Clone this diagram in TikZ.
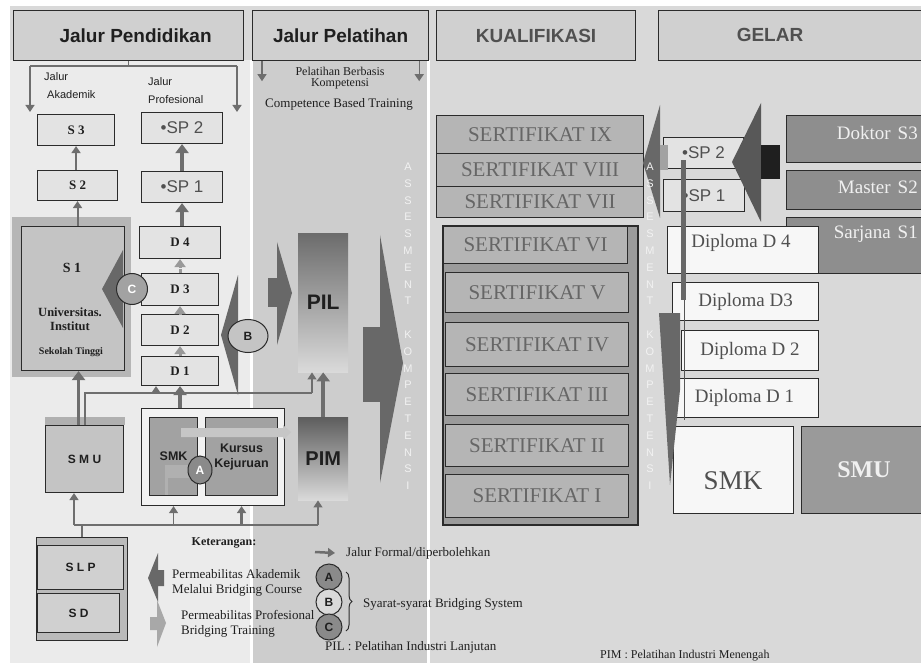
\documentclass[tikz,border=0pt]{standalone}
\usepackage{fontspec}
\setmainfont{Liberation Serif}
\setsansfont{Liberation Sans}
\usepackage{tikz}
\usetikzlibrary{arrows.meta,positioning,shapes.geometric,decorations.pathreplacing}
\definecolor{PanelL}{HTML}{EBEBEB}
\definecolor{PanelM}{HTML}{CDCDCD}
\definecolor{PanelR}{HTML}{D9D9D9}
\definecolor{Head}{HTML}{D0D0D0}
\definecolor{Edge}{HTML}{2B2B2B}
\definecolor{Dark}{HTML}{1F1F1F}
\definecolor{Ink}{HTML}{505050}
\definecolor{BoxL}{HTML}{E3E3E3}
\definecolor{BoxM}{HTML}{C4C4C4}
\definecolor{BoxD}{HTML}{A2A2A2}
\definecolor{S1Back}{HTML}{B6B6B6}
\definecolor{Shaft}{HTML}{6E6E6E}
\definecolor{Wedge}{HTML}{686868}
\definecolor{Soft}{HTML}{C6C6C6}
\definecolor{Cert}{HTML}{B5B5B5}
\definecolor{CertBack}{HTML}{9B9B9B}
\definecolor{CertText}{HTML}{666666}
\definecolor{Gelar}{HTML}{8E8E8E}
\definecolor{Paper}{HTML}{F7F7F7}
\definecolor{PilTop}{HTML}{6C6C6C}
\definecolor{PilBot}{HTML}{DADADA}

\begin{document}
\begin{tikzpicture}[x=1pt,y=-1pt,
  hdr/.style={draw=Edge,fill=Head,line width=1.2pt,anchor=north west,inner sep=0pt,font=\fontsize{19}{21}\selectfont\sffamily\bfseries,text=Dark},
  lbox/.style={draw=Edge,fill=BoxL,line width=1.1pt,anchor=north west,inner sep=0pt,font=\fontsize{13}{15}\selectfont\bfseries,text=Dark},
  spbox/.style={lbox,font=\fontsize{17}{19}\selectfont\sffamily\mdseries,text=Ink},
  mbox/.style={lbox,fill=BoxM,font=\fontsize{12}{14}\selectfont\sffamily\bfseries},
  kbox/.style={lbox,fill=BoxD,align=center,font=\fontsize{12.5}{15}\selectfont\sffamily\bfseries},
  cert/.style={draw=Edge,fill=Cert,line width=1.1pt,anchor=north west,inner sep=0pt,text=CertText,font=\fontsize{21}{23}\selectfont},
  dip/.style={draw=Edge,fill=Paper,line width=1.1pt,anchor=north west,inner sep=0pt,text=Ink,font=\fontsize{19}{21}\selectfont},
  gel/.style={draw=Edge,fill=Gelar,line width=1.1pt,anchor=north west,inner sep=0pt},
  geltext/.style={anchor=east,inner sep=0pt,text=white!94!black,font=\fontsize{19}{21}\selectfont},
  bubble/.style={ellipse,draw=Edge,line width=1pt,inner sep=0pt,font=\fontsize{12}{14}\selectfont\sffamily\bfseries},
  fatarr/.style={draw=Shaft,line width=3.5pt,-{Triangle[length=9pt,width=13pt]}},
  grayarr/.style={draw=Shaft,line width=2pt,-{Triangle[length=7pt,width=9pt]}},
  dasharr/.style={draw=Shaft!70,line width=3pt,dash pattern=on 4pt off 2pt,-{Triangle[length=8pt,width=11pt]}},
  thinline/.style={draw=Shaft,line width=1.3pt},
  thinarr/.style={thinline,-{Triangle[length=7pt,width=9pt]}},
  legtext/.style={inner sep=0pt,text=Dark,align=left,font=\fontsize{13}{15}\selectfont},
  vletter/.style={inner sep=0pt,text=white!95!black,font=\fontsize{11}{11}\selectfont\sffamily}
]
\useasboundingbox (0,0) rectangle (921,663);
% panels
\fill[white] (0,0) rectangle (921,663);
\fill[PanelR] (10,6) rectangle (921,663);
\fill[PanelL] (10,60) rectangle (250,663);
\fill[PanelM] (253,60) rectangle (427,663);
\fill[white] (250,60) rectangle (253,663);
\fill[white] (427,60) rectangle (430,663);

% headers
\node[hdr,minimum width=230,minimum height=50] (hdrpend) at (13,10) {\hspace*{14pt}Jalur Pendidikan};
\node[hdr,minimum width=176,minimum height=50] (hdrpel) at (252,10) {Jalur Pelatihan};
\node[hdr,minimum width=199,minimum height=50,text=Ink] (hdrkual) at (436,10) {KUALIFIKASI};
\node[hdr,minimum width=280,minimum height=50] (hdrgel) at (658,10) {};
\node[font=\fontsize{19}{21}\selectfont\sffamily\bfseries,text=Ink] (gelt) at (770,35) {GELAR};

\coordinate (busL) at (30,66);
\coordinate (busR) at (237,66);
\coordinate (akEnd) at (30,112);
\coordinate (prEnd) at (237,112);
\draw[thinline] (hdrpend.south) -- (hdrpend.south |- busL);
\draw[thinline] (busL) -- (busR);
\draw[thinarr] (busL) -- (akEnd);
\draw[thinarr] (busR) -- (prEnd);
\draw[thinarr] ([xshift=10pt]hdrpel.south west) -- ++(0,20);
\draw[thinarr] ([xshift=-10pt]hdrpel.south east) -- ++(0,20);

\node[legtext,font=\fontsize{11}{18}\selectfont\sffamily,anchor=west] (jak) at (44,86) {Jalur\\\hspace*{3pt}Akademik};
\node[legtext,font=\fontsize{11}{18}\selectfont\sffamily,anchor=west] (jpr) at (148,91) {Jalur\\Profesional};
\node[legtext,align=center,font=\fontsize{12}{11.5}\selectfont] (pbk) at (340,78) {Pelatihan Berbasis\\Kompetensi};
\node[legtext] (cbt) at (339,104) {Competence Based Training};

% academic column
\node[lbox,minimum width=77,minimum height=31] (s3) at (37,114) {S 3};
\node[lbox,minimum width=80,minimum height=30] (s2) at (37,170) {S 2};
\fill[S1Back] (12,217) rectangle (131,377);
\node[lbox,fill=BoxM,minimum width=103,minimum height=144] (s1) at (21,226) {};
\node[font=\fontsize{14}{16}\selectfont\bfseries,text=Dark] (s1t) at (72,268) {S 1};
\node[align=center,font=\fontsize{12.5}{14}\selectfont\bfseries,text=Dark] (s1u) at (70,319) {Universitas.\\Institut};
\node[font=\fontsize{10}{12}\selectfont\bfseries,text=Dark] (s1s) at (71,352) {Sekolah Tinggi};

% professional column
\node[spbox,minimum width=81,minimum height=31] (sp2) at (141,112) {\textbullet SP 2};
\node[spbox,minimum width=81,minimum height=31] (sp1) at (141,171) {\textbullet SP 1};
\node[lbox,minimum width=81,minimum height=32] (d4) at (139,226) {D 4};
\node[lbox,minimum width=77,minimum height=32] (d3) at (141,273) {D 3};
\node[lbox,minimum width=77,minimum height=31] (d2) at (141,314) {D 2};
\node[lbox,minimum width=77,minimum height=29] (d1) at (141,356) {D 1};

\draw[grayarr] (s3.south |- s2.north) -- (s3.south);
\draw[grayarr] (s2.south |- s1.north) -- (s2.south);
\draw[fatarr] (sp2.south |- sp1.north) -- (sp2.south);
\draw[fatarr] (sp1.south |- d4.north) -- (sp1.south);
\draw[dasharr] (d4.south |- d3.north) -- (d4.south);
\draw[dasharr] (d3.south |- d2.north) -- (d3.south);
\draw[dasharr] (d2.south |- d1.north) -- (d2.south);

% SMU and SMK group
\fill[BoxM!90!black] (45,417) rectangle (125,425);
\node[mbox,minimum width=78,minimum height=67] (smu) at (45,425) {S M U};
\node[lbox,fill=white!95!black,minimum width=143,minimum height=97] (grp) at (141,408) {};
\node[kbox,minimum width=48,minimum height=78] (smk) at (149,417) {SMK};
\node[kbox,minimum width=72,minimum height=78] (kursus) at (205,417) {Kursus\\Kejuruan};
\fill[BoxD!85!white] (165,465) rectangle (192,478);
\fill[BoxD!85!white] (165,478) rectangle (168,495);
\fill[Soft] (181,428) -- (283,428) -- (283,425) -- (291,432) -- (283,440) -- (283,437) -- (181,437) -- cycle;

% wedges
\fill[Wedge] (102,289) -- (123,250) -- (123,328) -- cycle;
\fill[Wedge] (123,278) rectangle (130,300);
\fill[Wedge] (221,335) -- (238,275) -- (238,395) -- cycle;
\fill[Wedge] (268,278) rectangle (277,307);
\fill[Wedge] (277,242) -- (292,293) -- (277,345) -- cycle;
\fill[Wedge] (363,327) rectangle (380,402);
\fill[Wedge] (380,235) -- (403,363) -- (380,483) -- cycle;

\node[bubble,circle,fill=BoxD,text=white,minimum size=31] (bc) at (132,289) {C};
\node[bubble,fill=BoxM,text=Dark,minimum width=40,minimum height=33] (bb) at (248,336) {B};
\node[bubble,fill=BoxD!85!black,text=white,minimum width=24,minimum height=28] (ba) at (200,470) {A};

% training column
\node[anchor=north west,inner sep=0pt,minimum width=50,minimum height=139,top color=PilTop,bottom color=PilBot,font=\fontsize{21}{23}\selectfont\sffamily\bfseries,text=Dark] (pil) at (298,233) {PIL};
\node[anchor=north west,inner sep=0pt,minimum width=50,minimum height=83,top color=PilTop!110,bottom color=PilBot,font=\fontsize{20}{22}\selectfont\sffamily\bfseries,text=Dark] (pim) at (298,417) {PIM};
\draw[fatarr] (pim.north) -- (pil.south);

% connectors of the left panel
\draw[fatarr] (d1.south |- grp.north) -- (d1.south);
\draw[fatarr] ([xshift=-6pt]smu.north) -- ([xshift=-6pt]smu.north |- s1.south);
\coordinate (lnkA) at (85,393);
\coordinate (lnkB) at (312,393);
\coordinate (lnkC) at (156,393);
\draw[thinline] (smu.north -| lnkA) -- (lnkA) -- (lnkB);
\draw[thinarr] (lnkB) -- (lnkB |- pil.south);
\draw[thinarr] (lnkC) -- (lnkC |- d1.south);

% SLP / SD
\node[lbox,fill=BoxM!95!black,minimum width=91,minimum height=103] (slpgrp) at (36,537) {};
\node[mbox,fill=BoxM!80!white,minimum width=86,minimum height=44] (slp) at (37,545) {S L P};
\node[mbox,fill=BoxM!80!white,minimum width=82,minimum height=39] (sd) at (37,593) {S D};

\coordinate (busB) at (74,525);
\coordinate (busE) at (318,525);
\draw[thinline] (slpgrp.north) -- (slpgrp.north |- busB);
\draw[thinline] (busB) -- (busE);
\draw[thinarr] (busB) -- (busB |- smu.south);
\draw[thinarr] (smk.south |- busB) -- (smk.south |- grp.south);
\draw[thinarr,line width=2.2pt] (kursus.south |- busB) -- (kursus.south |- grp.south);
\draw[thinarr] (busE) -- (busE |- pim.south);

% qualifications
\node[cert,minimum width=207,minimum height=38] (c9) at (436,115) {SERTIFIKAT IX};
\node[cert,minimum width=207,minimum height=33] (c8) at (436,153) {SERTIFIKAT VIII};
\node[cert,minimum width=207,minimum height=31] (c7) at (436,186) {SERTIFIKAT VII};
\filldraw[fill=CertBack,draw=Edge,line width=1.1pt] (443,226) rectangle (638,525);
\node[cert,minimum width=184,minimum height=37] (c6) at (443,226) {SERTIFIKAT VI};
\node[cert,minimum width=183,minimum height=40] (c5) at (445,272) {SERTIFIKAT V};
\node[cert,minimum width=183,minimum height=44] (c4) at (445,322) {SERTIFIKAT IV};
\node[cert,minimum width=183,minimum height=42] (c3) at (445,373) {SERTIFIKAT III};
\node[cert,minimum width=183,minimum height=42] (c2) at (445,424) {SERTIFIKAT II};
\node[cert,minimum width=183,minimum height=43] (c1) at (445,474) {SERTIFIKAT I};

% degrees
\node[gel,minimum width=140,minimum height=47] (doktor) at (786,115) {};
\node[gel,minimum width=140,minimum height=39] (master) at (786,170) {};
\node[gel,minimum width=140,minimum height=56] (sarjana) at (786,217) {};
\node[geltext] (doktort) at (918,133) {Doktor\hspace{7pt}S3};
\node[geltext] (mastert) at (918,187) {Master\hspace{7pt}S2};
\node[geltext] (sarjanat) at (918,234) {Sarjana\hspace{7pt}S1};

\node[spbox,minimum width=80,minimum height=31] (rsp2) at (663,137) {\textbullet SP 2};
\node[spbox,minimum width=81,minimum height=32] (rsp1) at (663,179) {\textbullet SP 1};

\node[dip,minimum width=151,minimum height=47] (dd4) at (667,226) {};
\node[dip,anchor=center,draw=none,fill=none] (dd4t) at (741,243) {Diploma D 4};
\node[dip,minimum width=146,minimum height=38] (dd3) at (672,282) {Diploma D3};
\node[dip,minimum width=137,minimum height=40] (dd2) at (681,330) {Diploma D 2};
\node[dip,minimum width=148,minimum height=39] (dd1) at (670,378) {Diploma D 1};
\node[dip,minimum width=120,minimum height=87] (rsmk) at (673,426) {};
\node[text=Ink,font=\fontsize{27}{29}\selectfont] (rsmkt) at (733,481) {SMK};
\node[gel,fill=BoxD!95!black,minimum width=125,minimum height=87,text=white!94!black,font=\fontsize{24}{26}\selectfont\bfseries] (rsmu) at (801,426) {SMU};

% right wedges
\fill[Wedge] (643,163) -- (660,105) -- (660,218) -- cycle;
\fill[BoxD] (660,145) rectangle (668,170);
\fill[Wedge!85!black] (732,162) -- (761,103) -- (761,222) -- cycle;
\fill[black!88] (761,145) rectangle (780,179);
\fill[Wedge] (681,160) rectangle (686,300);
\draw[Edge!80,line width=1pt] (684,300) -- (684,420);
\fill[Wedge] (659,313) -- (680,313) -- (680,390) -- (670,485) -- cycle;

% vertical lettering
\foreach \ch [count=\i] in {A,S,S,E,S,M,E,N,T,{},K,O,M,P,E,T,E,N,S,I}{
  \node[vletter] (va\i) at (408,{150+16.8*\i}) {\ch};
  \node[vletter] (vb\i) at (650,{150+16.8*\i}) {\ch};
}

% legend
\node[legtext,font=\fontsize{12}{14}\selectfont\bfseries] (keter) at (224,543) {Keterangan:};
\fill[Wedge] (148,578) -- (158,553) -- (158,570) -- (164,570) -- (164,586) -- (158,586) -- (158,602) -- cycle;
\fill[Soft!85!black] (150,617) -- (157,617) -- (157,600) -- (166,623) -- (157,647) -- (157,630) -- (150,630) -- cycle;
\node[legtext,anchor=west] (lgak) at (172,583) {Permeabilitas Akademik\\Melalui Bridging Course};
\node[legtext,anchor=west] (lgpr) at (181,624) {Permeabilitas Profesional\\Bridging Training};
\coordinate (lgS) at (315,552);
\node[legtext,anchor=west] (lgformal) at (346,553) {Jalur Formal/diperbolehkan};
\draw[grayarr,line width=2.5pt] (lgS) -- ([xshift=-11pt]lgformal.west);
\node[bubble,circle,fill=BoxD!85!black,text=Dark,minimum size=26] (la) at (329,577) {A};
\node[bubble,circle,fill=PanelR,text=Dark,minimum size=26] (lb) at (329,602) {B};
\node[bubble,circle,fill=BoxD!85!black,text=Dark,minimum size=26] (lc) at (329,627) {C};
\coordinate (brT) at (346,572);
\coordinate (brB) at (346,631);
\draw[Edge,line width=1pt,decorate,decoration={brace,amplitude=6pt}] (brT) -- (brB);
\node[legtext,anchor=west] (lgsyarat) at (363,604) {Syarat-syarat Bridging System};
\node[legtext,anchor=west] (lgpil) at (325,647) {PIL : Pelatihan Industri Lanjutan};
\node[legtext,anchor=west,font=\fontsize{12}{14}\selectfont] (lgpim) at (600,656) {PIM : Pelatihan Industri Menengah};
\end{tikzpicture}
\end{document}
